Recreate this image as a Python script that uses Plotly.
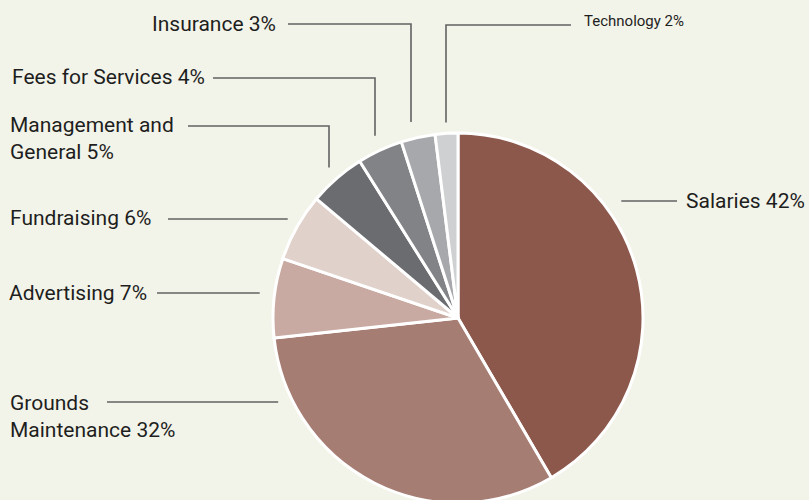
import math
import plotly.graph_objects as go

# ---------------- data ----------------
categories = ["Salaries", "Grounds Maintenance", "Advertising", "Fundraising",
              "Management and General", "Fees for Services", "Insurance", "Technology"]
shares = [42, 32, 7, 6, 5, 4, 3, 2]
label_texts = ["Salaries 42%", "Grounds<br>Maintenance 32%", "Advertising 7%",
               "Fundraising 6%", "Management and<br>General 5%", "Fees for Services 4%",
               "Insurance 3%", "Technology 2%"]

# ---------------- styles ----------------
slice_colors = ["#8C584B", "#A67D72", "#C9AAA2", "#E0D1CA",
                "#6B6C70", "#828387", "#A7A8AB", "#CFD0D2"]
BG = "#F3F4E9"
TEXT = "#1E1E1E"
LEADER = "#626262"
FONT = "Roboto, sans-serif"

W, H = 809, 520          # page viewport is 500 high, so the pie bottom is clipped as in the reference
CX, CY, R = 458.0, 318.0, 185.0   # pie centre / radius in pixels

# callout layout (pixel positions of label text and leader geometry)
callouts = [
    dict(kind="h", side="right", tx=807, tanchor="right", ty=201, ly=201, lx=677, gap=20, size=21),
    dict(kind="h", side="left", tx=8, tanchor="left", ty=416, ly=402, lx=107, gap=15, size=21),
    dict(kind="h", side="left", tx=7, tanchor="left", ty=293, ly=293, lx=157, gap=15, size=21),
    dict(kind="h", side="left", tx=8, tanchor="left", ty=218, ly=219, lx=168, gap=14, size=21),
    dict(kind="elbow", tx=8, tanchor="left", ty=139, ly=126, lx=188, vx=329, gap=18, size=21),
    dict(kind="elbow", tx=10, tanchor="left", ty=77, ly=78, lx=213, vx=375, gap=17, size=21),
    dict(kind="elbow", tx=278, tanchor="right", ty=24, ly=24, lx=288, vx=411, gap=17, size=21),
    dict(kind="elbow", tx=582, tanchor="left", ty=21, ly=25, lx=571, vx=446, gap=11, size=15),
]


def px(x):
    return x / W


def py(y):
    return 1 - y / H


def edge_x(y, side):
    d = math.sqrt(max(R * R - (y - CY) ** 2, 0))
    return CX + d if side == "right" else CX - d


def edge_y_top(x):
    return CY - math.sqrt(max(R * R - (x - CX) ** 2, 0))


fig = go.Figure()
fig.add_trace(go.Pie(
    labels=categories,
    values=shares,
    sort=False,
    direction="clockwise",
    rotation=0,
    textinfo="none",
    hoverinfo="label+percent",
    marker=dict(colors=slice_colors, line=dict(color="#FFFFFF", width=3)),
    domain=dict(x=[px(CX - R), px(CX + R)], y=[py(CY + R), py(CY - R)]),
    showlegend=False,
))

shapes = []
annotations = []
for text, c in zip(label_texts, callouts):
    if c["kind"] == "h":
        if c["side"] == "right":
            x_end = edge_x(c["ly"], "right") + c["gap"]
        else:
            x_end = edge_x(c["ly"], "left") - c["gap"]
        path = f"M {px(c['lx'])} {py(c['ly'])} L {px(x_end)} {py(c['ly'])}"
    else:
        y_end = edge_y_top(c["vx"]) - c["gap"]
        path = (f"M {px(c['lx'])} {py(c['ly'])} L {px(c['vx'])} {py(c['ly'])} "
                f"L {px(c['vx'])} {py(y_end)}")
    shapes.append(dict(type="path", path=path, xref="paper", yref="paper",
                       line=dict(color=LEADER, width=1.6)))
    annotations.append(dict(
        text=text, x=px(c["tx"]), y=py(c["ty"]), xref="paper", yref="paper",
        xanchor=c["tanchor"], yanchor="middle", align="left", showarrow=False,
        font=dict(family=FONT, size=c["size"], color=TEXT),
    ))

fig.update_layout(
    width=W, height=H,
    margin=dict(l=0, r=0, t=0, b=0),
    paper_bgcolor=BG, plot_bgcolor=BG,
    shapes=shapes, annotations=annotations,
)

page_css = (
    "document.documentElement.style.margin='0';"
    "document.documentElement.style.overflow='hidden';"
    "document.body.style.margin='0';"
    "document.body.style.overflow='hidden';"
    f"document.body.style.background='{BG}';"
)
fig.write_html("out.html", post_script=page_css, config={"displayModeBar": False})
